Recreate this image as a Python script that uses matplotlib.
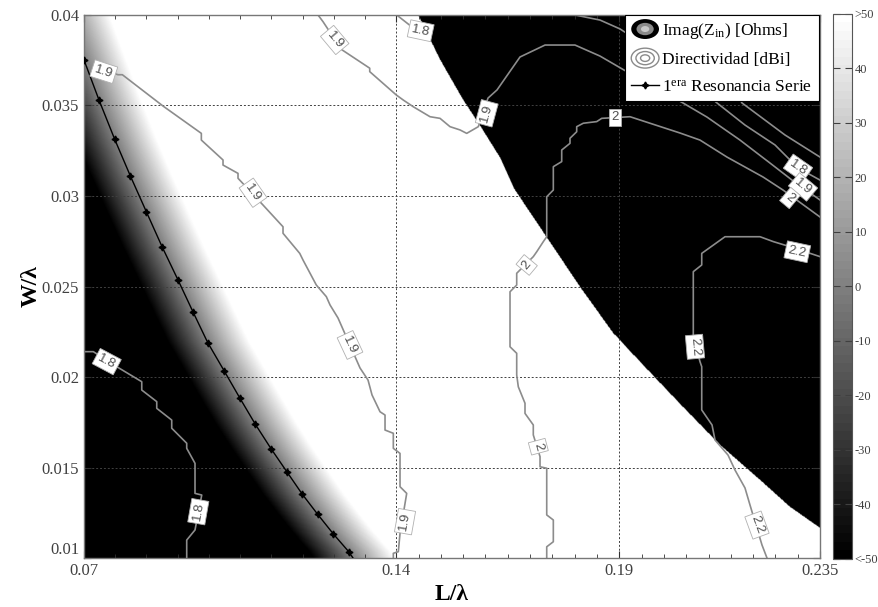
import numpy as np
import matplotlib
matplotlib.use("Agg")
import matplotlib.pyplot as plt
from matplotlib.patches import Ellipse, Patch
from matplotlib.lines import Line2D
from matplotlib.legend_handler import HandlerBase

plt.rcParams['font.family'] = ['Liberation Serif', 'DejaVu Serif']
plt.rcParams['mathtext.fontset'] = 'custom'
plt.rcParams['mathtext.rm'] = 'Liberation Serif'
plt.rcParams['mathtext.it'] = 'Liberation Serif:italic'
plt.rcParams['mathtext.bf'] = 'Liberation Serif:bold'

# ---- data (L/lambda, W/lambda) ----
# 1era resonancia serie (Imag(Zin) = 0)
res_l = [0.07000, 0.07336, 0.07688, 0.08038, 0.08397, 0.08749, 0.09107, 0.09444, 0.09773,
         0.10139, 0.10497, 0.10840, 0.11192, 0.11551, 0.11894, 0.12239, 0.12589, 0.12934, 0.13030]
res_w = [0.03751, 0.03530, 0.03313, 0.03111, 0.02913, 0.02720, 0.02536, 0.02359, 0.02190,
         0.02035, 0.01882, 0.01739, 0.01604, 0.01475, 0.01352, 0.01241, 0.01133, 0.01035, 0.01000]

# antiresonance edge (Imag jumps from >50 to <-50)
anti_l = [0.14488, 0.14982, 0.15497, 0.15878, 0.16327, 0.16641, 0.17380, 0.18120, 0.18860,
          0.19466, 0.20362, 0.21259, 0.22156, 0.22829, 0.23500]
anti_w = [0.04000, 0.03751, 0.03530, 0.03387, 0.03210, 0.03039, 0.02768, 0.02497, 0.02243,
          0.02083, 0.01851, 0.01624, 0.01431, 0.01282, 0.01166]

# width of the gray ramp either side of the resonance (in L/lambda)
ramp_neg = 0.009
ramp_pos = 0.0095

# directivity contours [dBi]
d18_ll_l = [0.07000, 0.07208, 0.07733, 0.08294, 0.08294, 0.08630, 0.08630, 0.08966, 0.08966,
            0.09302, 0.09302, 0.09488, 0.09488, 0.09639, 0.09488, 0.09302, 0.09302]
d18_ll_w = [0.02140, 0.02140, 0.02057, 0.01974, 0.01928, 0.01864, 0.01827, 0.01762, 0.01717,
            0.01634, 0.01606, 0.01523, 0.01357, 0.01348, 0.01155, 0.01099, 0.01000]

d19_a_l = [0.07000, 0.07762, 0.07859, 0.08771, 0.09630, 0.09630, 0.10116, 0.10116, 0.10452,
           0.10452, 0.11013, 0.11461, 0.11461, 0.11836, 0.11910, 0.12208, 0.12432, 0.12515,
           0.12694, 0.13187, 0.13367, 0.13456, 0.13636, 0.13748, 0.13748, 0.13934, 0.13934,
           0.14084, 0.14084, 0.14234, 0.14084, 0.14046, 0.13934, 0.13934]
d19_a_w = [0.03729, 0.03670, 0.03670, 0.03497, 0.03346, 0.03309, 0.03199, 0.03171, 0.03125,
           0.03098, 0.02950, 0.02830, 0.02794, 0.02683, 0.02646, 0.02508, 0.02444, 0.02398,
           0.02326, 0.02050, 0.01983, 0.01901, 0.01808, 0.01790, 0.01707, 0.01689, 0.01606,
           0.01578, 0.01394, 0.01357, 0.01136, 0.01035, 0.01026, 0.01000]

d19_b_l = [0.12246, 0.12358, 0.12768, 0.13405, 0.13405, 0.14001, 0.14158, 0.14382, 0.14757,
           0.14981, 0.15205, 0.15429, 0.15579, 0.15839, 0.16057, 0.16259, 0.16774, 0.17335,
           0.18007, 0.18568, 0.19106, 0.20428, 0.20966, 0.21706, 0.22379, 0.22872, 0.23500]
d19_b_w = [0.04000, 0.03963, 0.03810, 0.03706, 0.03687, 0.03558, 0.03530, 0.03493, 0.03438,
           0.03429, 0.03383, 0.03365, 0.03346, 0.03383, 0.03541, 0.03586, 0.03768, 0.03834,
           0.03834, 0.03773, 0.03696, 0.03514, 0.03436, 0.03309, 0.03182, 0.03088, 0.02978]

d18_top_l = [0.14010, 0.14346, 0.14622]
d18_top_w = [0.04000, 0.03935, 0.03906]

d18_r_l = [0.18007, 0.18568, 0.19016, 0.19913, 0.21191, 0.21818, 0.22491, 0.23006, 0.23500]
d18_r_w = [0.04000, 0.03972, 0.03923, 0.03779, 0.03514, 0.03392, 0.03282, 0.03155, 0.03088]

d17_r_l = [0.20585, 0.21751, 0.22715, 0.23500]
d17_r_w = [0.04000, 0.03514, 0.03337, 0.03215]

d20_l = [0.17373, 0.17373, 0.17521, 0.17521, 0.17373, 0.17373, 0.17223, 0.17223, 0.17072,
         0.17072, 0.16886, 0.16886, 0.16736, 0.16700, 0.16700, 0.16550, 0.16550, 0.16700,
         0.16700, 0.17072, 0.17149, 0.17223, 0.17297, 0.17373, 0.17373, 0.17521, 0.17521,
         0.17709, 0.17709, 0.17895, 0.17895, 0.18045, 0.18045, 0.18193, 0.18494, 0.18606,
         0.19240, 0.19464, 0.20361, 0.20809, 0.21415, 0.22222, 0.22670, 0.23500]
d20_w = [0.01000, 0.01062, 0.01090, 0.01210, 0.01238, 0.01496, 0.01504, 0.01560, 0.01680,
         0.01735, 0.01799, 0.01855, 0.01946, 0.02011, 0.02131, 0.02167, 0.02471, 0.02508,
         0.02573, 0.02665, 0.02692, 0.02720, 0.02748, 0.02775, 0.02996, 0.03033, 0.03162,
         0.03190, 0.03254, 0.03291, 0.03319, 0.03355, 0.03383, 0.03402, 0.03411, 0.03429,
         0.03438, 0.03420, 0.03348, 0.03309, 0.03215, 0.03105, 0.03033, 0.02884]

d22_l = [0.23500, 0.22827, 0.22453, 0.22155, 0.21370, 0.20848, 0.20848, 0.20659, 0.20659,
         0.20809, 0.20848, 0.20848, 0.21079, 0.21146, 0.21437, 0.21594, 0.21818, 0.21930,
         0.22199, 0.22311]
d22_w = [0.02665, 0.02720, 0.02748, 0.02775, 0.02775, 0.02683, 0.02619, 0.02582, 0.02223,
         0.02085, 0.02057, 0.01818, 0.01735, 0.01652, 0.01569, 0.01486, 0.01387, 0.01293,
         0.01072, 0.01000]

contours = [(d18_ll_l, d18_ll_w), (d19_a_l, d19_a_w), (d19_b_l, d19_b_w),
            (d18_top_l, d18_top_w), (d18_r_l, d18_r_w), (d17_r_l, d17_r_w),
            (d20_l, d20_w), (d22_l, d22_w)]

# contour labels: text, L, W, rotation
clabels = [
    ("1.8", 0.07509, 0.02085, -28), ("1.8", 0.09562, 0.01256, 80),
    ("1.9", 0.07442, 0.03687, -18), ("1.9", 0.10789, 0.03018, -55),
    ("1.9", 0.12963, 0.02177, -65), ("1.9", 0.14196, 0.01201, 80),
    ("1.9", 0.12620, 0.03862, -50), ("1.9", 0.16028, 0.03457, 75),
    ("1.8", 0.14548, 0.03913, -12),
    ("2", 0.17185, 0.01615, -75), ("2", 0.16924, 0.02619, 50),
    ("2", 0.18904, 0.03435, 0),
    ("1.8", 0.23006, 0.03155, -35), ("1.9", 0.23119, 0.03050, -40),
    ("2", 0.22827, 0.02989, -40),
    ("2.2", 0.22991, 0.02692, -12), ("2.2", 0.20697, 0.02167, -85),
    ("2.2", 0.22087, 0.01182, -70),
]

x_ticks = [0.07, 0.14, 0.19, 0.235]
x_ticklabels = ["0.07", "0.14", "0.19", "0.235"]
y_ticks = [0.01, 0.015, 0.02, 0.025, 0.03, 0.035, 0.04]
y_ticklabels = ["0.01", "0.015", "0.02", "0.025", "0.03", "0.035", "0.04"]
cb_ticks = [-50, -40, -30, -20, -10, 0, 10, 20, 30, 40, 50]
cb_ticklabels = ["<-50", "-40", "-30", "-20", "-10", "0", "10", "20", "30", "40", ">50"]

# ---- Imag(Zin) map built from the read curves ----
gx = np.linspace(0.07, 0.235, 1200)
gy = np.linspace(0.01, 0.04, 800)
GX, GY = np.meshgrid(gx, gy)
xr = np.interp(gy, res_w[::-1], res_l[::-1])
slope = (res_l[1] - res_l[0]) / (res_w[1] - res_w[0])
top = gy > res_w[0]
xr[top] = res_l[0] + slope * (gy[top] - res_w[0])
d = GX - xr[:, None]
imag = np.where(d < 0, d / ramp_neg, d / ramp_pos) * 50
imag = np.clip(imag, -50, 50)
xa = np.interp(gy, anti_w[::-1], anti_l[::-1], left=1.0)
imag[GX >= xa[:, None]] = -50

fig = plt.figure(figsize=(8.79, 6.07), dpi=100)
ax = fig.add_axes([0.0956, 0.0807, 0.8373, 0.8946])
cmap = plt.get_cmap('gray', 64)
im = ax.imshow(imag, extent=[0.07, 0.235, 0.01, 0.04], origin='lower', aspect='auto',
               cmap=cmap, vmin=-50, vmax=50, interpolation='bilinear', zorder=0)

for cl, cw in contours:
    ax.plot(cl, cw, color='#8c8c8c', lw=1.2, zorder=2)

for txt, lx, ly, rot in clabels:
    ax.text(lx, ly, txt, rotation=rot, ha='center', va='center', fontsize=9.5,
            family=['Liberation Sans', 'DejaVu Sans'], color='#505050', zorder=4,
            rotation_mode='anchor',
            bbox=dict(boxstyle='square,pad=0.2', fc='white', ec='#b0b0b0', lw=0.6))

ax.plot(res_l[:-1], res_w[:-1], color='black', lw=1.0, marker=(4, 1, 0), ms=5, zorder=3)
ax.plot(res_l[-2:], res_w[-2:], color='black', lw=1.0, zorder=3)

ax.set_xlim(0.07, 0.235)
ax.set_ylim(0.01, 0.04)
ax.set_xticks(x_ticks)
ax.set_xticklabels(x_ticklabels)
ax.set_yticks(y_ticks)
ax.set_yticklabels(y_ticklabels)
ax.get_yticklabels()[0].set_va('bottom')
minor_x = [0.07 + 0.007 * k for k in range(1, 10)] + \
          [0.14 + 0.005 * k for k in range(1, 19) if k != 10]
ax.set_xticks(minor_x, minor=True)
ax.tick_params(axis='both', which='both', direction='in', top=True, right=True,
               labelsize=12, labelcolor='#404040', color='#303030')
ax.tick_params(which='major', length=5)
ax.tick_params(which='minor', length=3)
ax.grid(True, which='major', linestyle=(0, (2, 2)), color='#404040', lw=0.7)
for s in ax.spines.values():
    s.set_color('#777777')
    s.set_linewidth(1.0)

ax.set_xlabel(r"L/λ", fontsize=17, fontweight='bold', labelpad=4)
ax.set_ylabel(r"W/λ", fontsize=17, fontweight='bold', labelpad=0)


class RingHandler(HandlerBase):
    def __init__(self, kind):
        super().__init__()
        self.kind = kind

    def create_artists(self, legend, orig_handle, xdescent, ydescent, width, height,
                       fontsize, trans):
        cx = width / 2 - xdescent
        cy = height / 2 - ydescent
        arts = []
        if self.kind == 'imag':
            for k, fc in [(1.0, 'black'), (0.62, '#8a8a8a'), (0.3, '#c8c8c8')]:
                arts.append(Ellipse((cx, cy), width * k, height * 1.5 * k, facecolor=fc,
                                    edgecolor='none', transform=trans))
        else:
            for k in [1.0, 0.66, 0.33]:
                arts.append(Ellipse((cx, cy), width * k, height * 1.5 * k, facecolor='none',
                                    edgecolor='#8a8a8a', lw=1.0, transform=trans))
        return arts


h_imag = Patch()
h_dir = Patch()
h_res = Line2D([], [], color='black', lw=1.0, marker=(4, 1, 0), ms=5)
leg = ax.legend([h_imag, h_dir, h_res],
                [r"Imag(Z$_{\mathrm{in}}$) [Ohms]", "Directividad [dBi]",
                 r"1$^{\mathrm{era}}$ Resonancia Serie"],
                handler_map={h_imag: RingHandler('imag'), h_dir: RingHandler('dir')},
                loc='upper right', bbox_to_anchor=(0.998, 1.0), borderaxespad=0,
                fontsize=12.5, fancybox=False, framealpha=1, edgecolor='black',
                handlelength=1.6, handleheight=0.8, handletextpad=0.2,
                labelspacing=0.6, borderpad=0.35)
leg.get_frame().set_linewidth(0.8)
leg.set_zorder(6)

cax = fig.add_axes([0.9477, 0.0791, 0.0216, 0.8979])
cb = fig.colorbar(im, cax=cax, ticks=cb_ticks)
cb.ax.set_yticklabels(cb_ticklabels)
cb.ax.tick_params(direction='in', left=True, right=True, length=5, labelsize=9,
                  labelcolor='#404040', color='#404040', pad=2)
cb.outline.set_edgecolor('#555555')
cb.outline.set_linewidth(0.8)

fig.savefig('out.png', dpi=100)
